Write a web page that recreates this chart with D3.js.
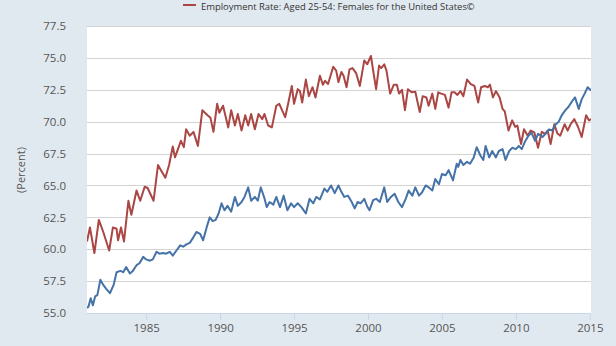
<!DOCTYPE html>
<html><head><meta charset="utf-8">
<script src="https://cdn.jsdelivr.net/npm/d3@7"></script>
<style>
html,body{margin:0;padding:0;background:#e1e9f0;}
svg{display:block;font-family:"Open Sans",sans-serif;}
</style></head>
<body><svg id="c" width="616" height="346"></svg>
<script>
const legendLabel = "Employment Rate: Aged 25-54: Females for the United States©";
const yAxisTitle = "(Percent)";
const yTicks = [55.0, 57.5, 60.0, 62.5, 65.0, 67.5, 70.0, 72.5, 75.0, 77.5];
const xTicks = [1985, 1990, 1995, 2000, 2005, 2010, 2015];

const redYears = [1981.0,1981.2,1981.5,1981.8,1982.1,1982.5,1982.75,1983.0,1983.1,1983.3,1983.5,1983.8,1984.0,1984.35,1984.6,1984.9,1985.1,1985.5,1985.8,1986.0,1986.3,1986.55,1986.8,1986.95,1987.2,1987.35,1987.55,1987.7,1987.95,1988.2,1988.5,1988.8,1989.15,1989.35,1989.55,1989.8,1989.95,1990.2,1990.55,1990.75,1991.0,1991.2,1991.45,1991.7,1991.9,1992.1,1992.35,1992.6,1992.85,1993.0,1993.25,1993.5,1993.8,1994.0,1994.15,1994.4,1994.6,1994.85,1995.0,1995.25,1995.4,1995.55,1995.8,1996.0,1996.25,1996.45,1996.75,1996.95,1997.1,1997.3,1997.65,1997.85,1998.0,1998.2,1998.35,1998.55,1998.75,1998.95,1999.2,1999.45,1999.75,1999.95,2000.2,2000.35,2000.55,2000.75,2000.9,2001.1,2001.25,2001.5,2001.75,2001.95,2002.1,2002.3,2002.5,2002.7,2002.95,2003.2,2003.5,2003.7,2003.95,2004.1,2004.35,2004.55,2004.75,2004.95,2005.2,2005.45,2005.65,2005.85,2006.05,2006.25,2006.45,2006.7,2006.95,2007.2,2007.45,2007.65,2007.9,2008.1,2008.25,2008.45,2008.65,2008.9,2009.1,2009.25,2009.5,2009.75,2009.95,2010.1,2010.35,2010.55,2010.8,2011.0,2011.25,2011.5,2011.75,2012.0,2012.15,2012.35,2012.6,2012.8,2013.0,2013.3,2013.5,2013.7,2013.95,2014.2,2014.45,2014.75,2014.95,2015.08];
const redValues = [60.6,61.7,59.7,62.3,61.35,59.9,61.7,61.6,60.7,61.7,60.6,63.8,62.7,64.6,63.8,64.9,64.8,63.8,66.6,66.2,65.6,66.6,68.05,67.2,68.0,68.5,68.0,69.4,68.9,69.2,68.1,70.9,70.5,70.3,69.2,71.4,70.7,71.25,69.55,70.9,69.7,70.6,69.3,70.5,69.7,70.6,69.4,70.6,70.2,70.6,69.7,69.55,71.25,71.4,71.0,70.35,71.4,72.8,71.4,72.55,72.4,71.5,73.3,72.0,72.7,71.9,73.6,72.9,73.2,72.95,74.3,74.0,73.1,73.9,73.6,72.7,74.1,74.2,73.8,72.8,74.8,74.5,75.15,74.0,72.55,74.4,74.2,74.5,74.0,72.2,72.9,72.9,72.2,72.5,70.9,72.55,72.3,72.35,70.75,72.0,71.9,71.25,72.2,71.0,72.3,72.2,72.1,71.1,72.3,72.3,72.1,72.4,72.0,73.3,72.95,72.8,71.5,72.7,72.8,72.7,72.9,71.9,72.4,71.9,71.0,70.8,69.3,70.1,69.6,69.7,68.25,69.4,68.9,69.3,69.15,67.95,69.2,69.05,69.3,68.25,69.8,69.1,68.9,69.8,69.3,69.8,70.2,69.6,68.8,70.5,70.1,70.2];

const blueYears = [1981.0,1981.1,1981.25,1981.4,1981.55,1981.7,1981.9,1982.1,1982.3,1982.55,1982.8,1983.0,1983.25,1983.45,1983.65,1983.9,1984.1,1984.35,1984.55,1984.8,1985.0,1985.25,1985.45,1985.7,1985.9,1986.15,1986.35,1986.6,1986.8,1987.05,1987.3,1987.5,1987.75,1987.95,1988.2,1988.4,1988.65,1988.85,1989.1,1989.3,1989.5,1989.7,1989.9,1990.1,1990.3,1990.5,1990.75,1991.0,1991.2,1991.45,1991.65,1991.9,1992.1,1992.35,1992.55,1992.75,1993.0,1993.15,1993.35,1993.6,1993.8,1994.05,1994.3,1994.55,1994.8,1995.0,1995.25,1995.5,1995.8,1996.05,1996.3,1996.5,1996.75,1997.05,1997.25,1997.5,1997.75,1998.0,1998.2,1998.4,1998.65,1998.9,1999.1,1999.3,1999.5,1999.75,1999.95,2000.1,2000.35,2000.55,2000.8,2001.1,2001.3,2001.55,2001.8,2002.05,2002.3,2002.55,2002.75,2003.0,2003.2,2003.45,2003.65,2003.9,2004.1,2004.35,2004.55,2004.8,2005.0,2005.25,2005.45,2005.75,2006.0,2006.1,2006.25,2006.45,2006.7,2006.9,2007.15,2007.35,2007.6,2007.8,2007.95,2008.2,2008.4,2008.65,2008.85,2009.1,2009.3,2009.55,2009.75,2010.0,2010.2,2010.4,2010.6,2010.85,2011.05,2011.3,2011.5,2011.8,2012.0,2012.25,2012.45,2012.7,2012.9,2013.1,2013.35,2013.55,2013.8,2014.0,2014.25,2014.45,2014.65,2014.85,2015.08];
const blueValues = [55.4,55.5,56.15,55.6,56.3,56.4,57.6,57.2,56.9,56.55,57.2,58.2,58.3,58.2,58.6,58.1,58.3,58.75,58.9,59.4,59.2,59.1,59.2,59.8,59.65,59.7,59.65,59.8,59.5,59.9,60.3,60.2,60.4,60.5,60.95,61.35,61.2,60.7,61.75,62.5,62.2,62.3,62.8,63.6,63.05,63.4,62.95,64.1,63.4,63.7,64.1,64.85,63.8,64.1,63.8,64.85,64.0,63.3,63.7,63.5,64.1,63.3,64.2,63.05,63.6,63.3,63.6,63.3,62.8,63.95,63.6,64.1,63.9,64.75,64.5,65.0,64.4,65.0,64.5,64.1,64.2,63.7,63.2,63.7,63.6,63.95,63.35,63.05,63.85,63.95,63.7,64.85,63.7,64.1,64.35,63.7,63.3,63.95,64.6,64.2,64.85,64.2,64.45,65.0,64.85,64.6,65.5,65.1,65.9,65.8,66.2,65.4,66.7,66.45,67.0,66.6,66.85,66.7,67.2,68.0,67.35,67.0,68.1,67.2,67.7,67.2,67.7,67.85,67.0,67.7,67.95,67.85,68.1,67.85,68.4,68.9,69.15,68.5,69.05,68.8,69.05,69.4,69.3,69.8,70.0,70.5,70.9,71.15,71.6,71.9,71.0,71.75,72.2,72.7,72.45];

const W = 616, H = 346;
const plot = {l: 87, r: 591, t: 26, b: 313};
const svg = d3.select("#c");

const x = d3.scaleLinear().domain([1981.0, 2015.08]).range([plot.l, plot.r]);
const y = d3.scaleLinear().domain([55, 77.5]).range([plot.b, plot.t]);

svg.append("rect").attr("x", plot.l).attr("y", plot.t)
  .attr("width", plot.r - plot.l).attr("height", plot.b - plot.t).attr("fill", "#ffffff");

// grid lines
svg.append("g").selectAll("line").data(yTicks.filter(v => v > 55)).join("line")
  .attr("x1", plot.l).attr("x2", plot.r)
  .attr("y1", d => Math.round(y(d)) + 0.5).attr("y2", d => Math.round(y(d)) + 0.5)
  .attr("stroke", "#d3d3d3").attr("stroke-width", 1);

// y axis labels
const yAxis = d3.axisLeft(y).tickValues(yTicks).tickFormat(d3.format(".1f")).tickSize(0).tickPadding(21);
const gy = svg.append("g").attr("transform", `translate(${plot.l},0)`).call(yAxis);
gy.select(".domain").remove();
gy.selectAll("text").attr("fill", "#555").style("font-size", "11.5px").style("font-family", "'Open Sans', sans-serif");

// x axis
const xAxis = d3.axisBottom(x).tickValues(xTicks).tickFormat(d3.format("d")).tickSize(7).tickPadding(4);
const gx = svg.append("g").attr("transform", `translate(0,${plot.b})`).call(xAxis);
gx.select(".domain").attr("stroke", "#ccd6eb").attr("d", `M${plot.l},0.5H${plot.r}`);
gx.selectAll(".tick line").attr("stroke", "#ccd6eb");
gx.selectAll("text").attr("fill", "#555").style("font-size", "11.5px").style("font-family", "'Open Sans', sans-serif");

// y title
svg.append("text").attr("transform", `translate(25,170) rotate(-90)`)
  .attr("text-anchor", "middle").attr("fill", "#555")
  .style("font-size", "11px").text(yAxisTitle);

// lines
const line = d3.line().x(d => x(d[0])).y(d => y(d[1]));
const redData = redYears.map((t, i) => [t, redValues[i]]);
const blueData = blueYears.map((t, i) => [t, blueValues[i]]);
svg.append("clipPath").attr("id", "pc").append("rect")
  .attr("x", plot.l).attr("y", plot.t - 5).attr("width", plot.r - plot.l).attr("height", plot.b - plot.t + 5);
svg.append("path").datum(redData).attr("d", line).attr("fill", "none")
  .attr("stroke", "#aa4643").attr("stroke-width", 2).attr("stroke-linejoin", "round").attr("clip-path", "url(#pc)");
svg.append("path").datum(blueData).attr("d", line).attr("fill", "none")
  .attr("stroke", "#4572a7").attr("stroke-width", 2).attr("stroke-linejoin", "round").attr("clip-path", "url(#pc)");

// legend
svg.append("line").attr("x1", 183).attr("x2", 196).attr("y1", 5).attr("y2", 5)
  .attr("stroke", "#aa4643").attr("stroke-width", 2);
const lt = svg.append("text").attr("x", 201).attr("y", 9.5).attr("fill", "#333")
  .style("font-size", "11px").text(legendLabel);
const w = lt.node().getComputedTextLength();
lt.style("font-size", (11 * 274 / w).toFixed(2) + "px");
</script></body></html>
